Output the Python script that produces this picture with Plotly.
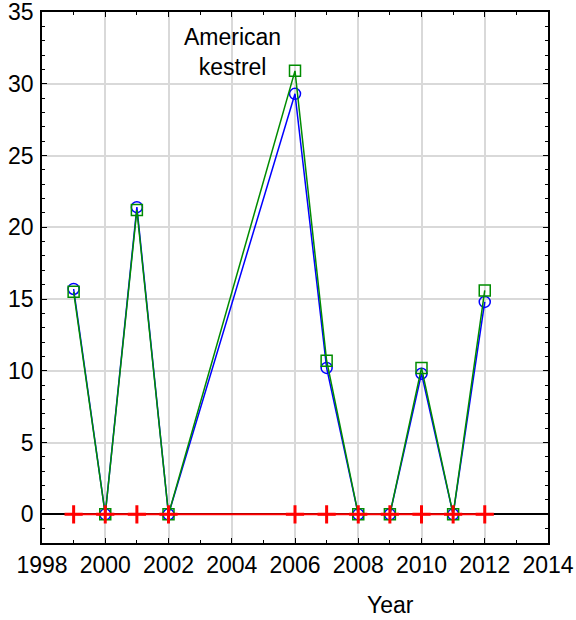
import plotly.graph_objects as go

years = [1999, 2000, 2001, 2002, 2006, 2007, 2008, 2009, 2010, 2011, 2012]
blue_circle = [15.7, 0, 21.4, 0, 29.3, 10.2, 0, 0, 9.8, 0, 14.8]
green_square = [15.5, 0, 21.2, 0, 30.9, 10.7, 0, 0, 10.2, 0, 15.6]
red_cross = [0, 0, 0, 0, 0, 0, 0, 0, 0, 0, 0]

x_ticks = [1998, 2000, 2002, 2004, 2006, 2008, 2010, 2012, 2014]
y_ticks = [0, 5, 10, 15, 20, 25, 30, 35]

font_family = "Liberation Sans, Arial, sans-serif"
FS = 23

fig = go.Figure()
fig.add_trace(go.Scatter(
    x=years, y=blue_circle, mode="lines+markers",
    line=dict(color="#0000ff", width=1.5),
    marker=dict(symbol="circle-open", size=11, color="#0000ff", line=dict(width=1.5)),
    showlegend=False))
fig.add_trace(go.Scatter(
    x=years, y=green_square, mode="lines+markers",
    line=dict(color="#008c00", width=1.5),
    marker=dict(symbol="square-open", size=11, color="#008c00", line=dict(width=1.5)),
    showlegend=False))
fig.add_trace(go.Scatter(
    x=years, y=red_cross, mode="lines+markers",
    line=dict(color="#ff0000", width=2),
    marker=dict(symbol="cross-thin-open", size=13, color="#ff0000", line=dict(width=3, color="#ff0000")),
    showlegend=False))

axis_common = dict(
    showline=True, linecolor="black", linewidth=1.5, mirror="allticks",
    ticks="inside", ticklen=5, tickcolor="black", tickwidth=1,
    showgrid=True, gridcolor="#d9d9d9", gridwidth=1.5,
    tickfont=dict(family=font_family, size=FS, color="black"),
    automargin=False, ticklabeloverflow="allow",
)

fig.update_xaxes(
    range=[1998, 2014], tickmode="array",
    tickvals=x_ticks, ticktext=[str(v) for v in x_ticks],
    minor=dict(tickvals=[1999, 2001, 2003, 2005, 2007, 2009, 2011, 2013], ticks="inside",
               ticklen=3, tickcolor="black", showgrid=False),
    zeroline=False, ticklabelstandoff=1,
    **axis_common)
fig.update_yaxes(
    range=[-2, 35], tickmode="array",
    tickvals=y_ticks, ticktext=[str(v) for v in y_ticks],
    minor=dict(dtick=1, ticks="inside", ticklen=3, tickcolor="black", showgrid=False),
    zeroline=True, zerolinecolor="black", zerolinewidth=1.5,
    ticklabelstandoff=2,
    **axis_common)

fig.add_annotation(x=(232.5 - 42) / 506, y=1 - (22 - 12) / 531, xref="paper", yref="paper",
                   yanchor="top", xanchor="center",
                   text="American<br>kestrel", showarrow=False,
                   font=dict(family=font_family, size=FS, color="black"))
fig.add_annotation(x=(390 - 42) / 506, y=-(605 - 543) / 531, xref="paper", yref="paper",
                   xanchor="center", yanchor="middle", text="Year", showarrow=False,
                   font=dict(family=font_family, size=FS, color="black"))

fig.update_layout(
    width=576, height=620,
    margin=dict(l=42, r=28, t=12, b=77),
    plot_bgcolor="white", paper_bgcolor="white",
    font=dict(family=font_family, size=FS, color="black"),
)

fig.write_html("out.html", config={"displayModeBar": False},
               post_script="document.body.style.margin='0';document.body.style.overflow='hidden';")
